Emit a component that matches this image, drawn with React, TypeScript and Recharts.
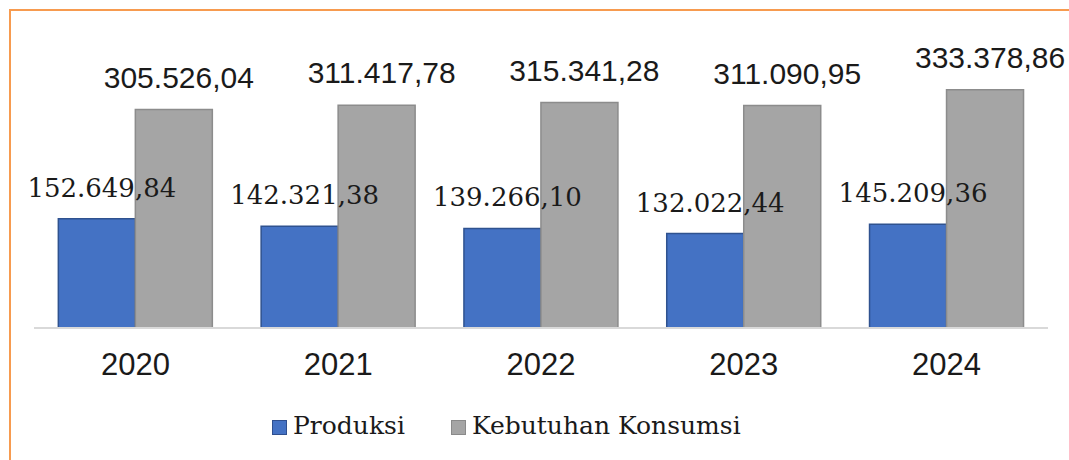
import React from 'react';
import { BarChart, Bar, XAxis, YAxis, Legend, LabelList } from 'recharts';

const years = ['2020', '2021', '2022', '2023', '2024'];
const produksi = [152649.84, 142321.38, 139266.1, 132022.44, 145209.36];
const kebutuhan = [305526.04, 311417.78, 315341.28, 311090.95, 333378.86];
const seriesNames = ['Produksi', 'Kebutuhan Konsumsi'];

const data = years.map((y, i) => ({ year: y, produksi: produksi[i], kebutuhan: kebutuhan[i] }));

const fmt = (v: number) =>
  v.toLocaleString('de-DE', { minimumFractionDigits: 2, maximumFractionDigits: 2 });

const makeLabel = (font: string, size: number) => (props: any) => {
  const { x, y, width, value } = props;
  return (
    <text
      x={Number(x) + Number(width) / 2 + 5}
      y={Number(y) - 22}
      textAnchor="middle"
      fontFamily={font}
      fontSize={size}
      fill="#1a1a1a"
    >
      {fmt(Number(value))}
    </text>
  );
};

const LegendContent = () => (
  <div style={{ display: 'flex', justifyContent: 'flex-start', alignItems: 'center', paddingLeft: 272, fontFamily: '"DejaVu Serif", serif', fontSize: 25, color: '#1a1a1a' }}>
    <span style={{ display: 'inline-block', width: 13, height: 13, background: '#4472C4', border: '1px solid #2F4F8F', marginRight: 6, marginTop: 4 }} />
    <span style={{ marginRight: 46 }}>{seriesNames[0]}</span>
    <span style={{ display: 'inline-block', width: 13, height: 13, background: '#A5A5A5', border: '1px solid #8A8A8A', marginRight: 6, marginTop: 4 }} />
    <span>{seriesNames[1]}</span>
  </div>
);

export default function App() {
  return (
    <div style={{ position: 'absolute', left: 0, top: 0, width: 1069, height: 460, background: '#fff' }}>
      <div style={{ position: 'absolute', left: 9, top: 9, width: 1060, height: 451, borderLeft: '2px solid #F79B4F', borderTop: '2px solid #F79B4F' }} />
      <BarChart
        width={1069}
        height={460}
        data={data}
        margin={{ top: 42, right: 21, left: 34, bottom: 82 }}
        barCategoryGap="12%"
        barGap={0}
      >
        <XAxis
          dataKey="year"
          axisLine={{ stroke: '#D9D9D9', strokeWidth: 2 }}
          tickLine={false}
          tickSize={0}
          tickMargin={25}
          height={50}
          tick={{ fill: '#1a1a1a', fontSize: 31, fontFamily: '"Liberation Sans", Arial, sans-serif' }}
        />
        <YAxis hide domain={[0, 400000]} />
        <Legend
          layout="horizontal"
          verticalAlign="middle"
          align="center"
          wrapperStyle={{ position: 'absolute', top: 411, left: 0, width: 1069 }}
          content={<LegendContent />}
        />
        <Bar dataKey="produksi" name={seriesNames[0]} fill="#4472C4" stroke="#2F528F" strokeWidth={1.5} isAnimationActive={false}>
          <LabelList dataKey="produksi" content={makeLabel('"DejaVu Serif", serif', 26)} />
        </Bar>
        <Bar dataKey="kebutuhan" name={seriesNames[1]} fill="#A5A5A5" stroke="#8C8C8C" strokeWidth={1.5} isAnimationActive={false}>
          <LabelList dataKey="kebutuhan" content={makeLabel('"Liberation Sans", Arial, sans-serif', 30)} />
        </Bar>
      </BarChart>
    </div>
  );
}
